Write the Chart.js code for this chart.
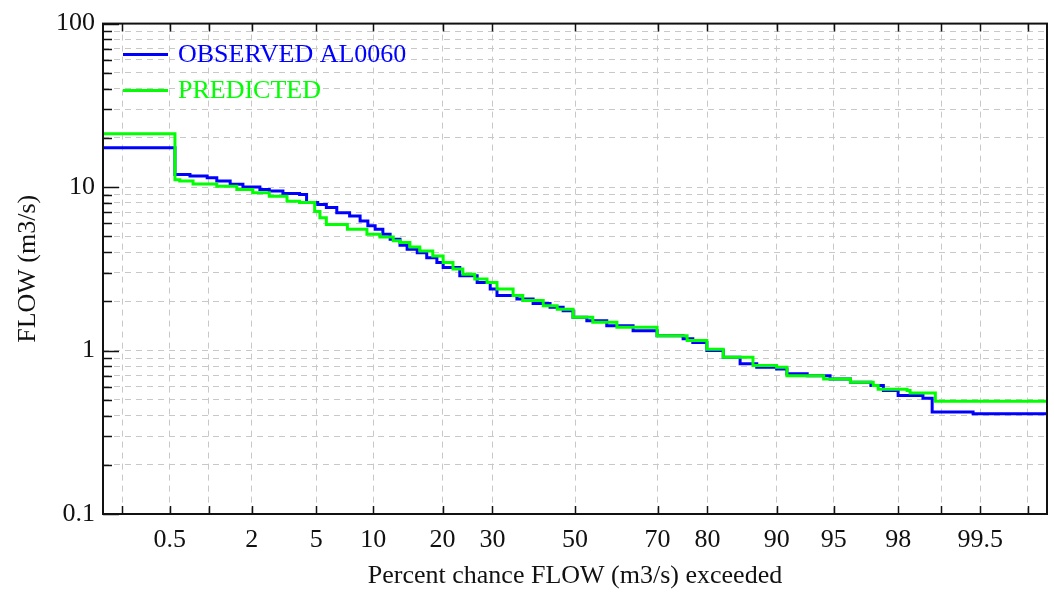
<!DOCTYPE html>
<html>
<head>
<meta charset="utf-8">
<script src="https://cdn.jsdelivr.net/npm/chart.js@4.4.1/dist/chart.umd.min.js"></script>
<style>
  html, body { margin: 0; padding: 0; background: #fff; }
  #wrap { width: 1054px; height: 593px; position: relative; }
</style>
</head>
<body>
<div id="wrap"><canvas id="fdc"></canvas></div>
<script>
// Flow duration curve: percent of time a flow is exceeded (normal probability axis)
// against flow on a log axis, observed vs predicted.

const X_TICKS = [0.2, 0.5, 1, 2, 5, 10, 20, 30, 50, 70, 80, 90, 95, 98, 99, 99.5, 99.8];
const X_LABELED = [0.5, 2, 5, 10, 20, 30, 50, 70, 80, 90, 95, 98, 99.5];
const Y_TICKS = [0.1, 0.2, 0.3, 0.4, 0.5, 0.6, 0.7, 0.8, 0.9,
                 1, 2, 3, 4, 5, 6, 7, 8, 9,
                 10, 20, 30, 40, 50, 60, 70, 80, 90, 100];
const Y_LABELED = [0.1, 1, 10, 100];

// observed (AL0060): step starts, percent exceeded / flow m3/s
const obsPct = [0.135, 0.55, 0.72, 0.97, 1.14, 1.42, 1.74, 2.26, 2.6, 3.17, 4.0, 4.4, 5.1, 5.7, 6.5,
  7.6, 8.6, 9.4, 10.2, 11.1, 12.0, 13.3, 14.3, 15.8, 17.3, 19.0, 20.1, 23.2, 26.7, 29.5, 31, 35.6, 39.5,
  43.7, 47, 49.5, 53, 58, 64.4, 69.9, 75.4, 77.3, 79.9, 82.7, 85.3, 87.6, 90, 91.1, 93, 94.75, 96,
  97, 97.5, 98, 98.65, 98.84, 99.43, 99.865];
const obsFlow = [17.4, 11.95, 11.7, 11.4, 10.9, 10.4, 10.0, 9.67, 9.45, 9.12, 9.0, 8.04, 7.83, 7.49, 6.97,
  6.66, 6.2, 5.79, 5.52, 5.15, 4.8, 4.4, 4.16, 3.97, 3.7, 3.46, 3.22, 2.87, 2.61, 2.38, 2.17, 2.07, 1.94,
  1.84, 1.75, 1.6, 1.52, 1.42, 1.32, 1.23, 1.18, 1.12, 1.0, 0.91, 0.83, 0.79, 0.77, 0.72, 0.70, 0.67, 0.64,
  0.61, 0.57, 0.53, 0.51, 0.42, 0.41, 0.41];

// predicted
const predPct = [0.135, 0.55, 0.6, 0.76, 1.14, 1.58, 2.03, 2.6, 3.36, 4.0, 4.9, 5.25, 5.7, 7.4, 9.3,
  10.75, 12.4, 13.3, 14.7, 16.2, 18.3, 20.1, 21.9, 23.8, 26.2, 28.8, 31, 34.7, 37, 42, 45.5, 49.5, 54.5,
  60.5, 69.9, 76.2, 79.9, 82.7, 87.1, 90, 91.1, 94.3, 96, 97.1, 97.3, 98.26, 98.34, 98.9, 99.865];
const predFlow = [21.2, 11.1, 10.88, 10.45, 10.1, 9.67, 9.23, 8.8, 8.2, 8.04, 7.1, 6.5, 5.91, 5.52, 5.15,
  4.95, 4.7, 4.58, 4.3, 4.07, 3.79, 3.46, 3.15, 2.93, 2.74, 2.61, 2.38, 2.17, 2.02, 1.88, 1.79, 1.6, 1.49,
  1.39, 1.23, 1.15, 1.02, 0.91, 0.81, 0.79, 0.70, 0.67, 0.64, 0.61, 0.58, 0.57, 0.55, 0.49, 0.49];

const FONT = { family: "'Liberation Serif', 'Times New Roman', serif", size: 26 };
const INK = '#111';

/* ===== normal probability scale ===== */
// Acklam's approximation of the inverse standard normal CDF
function probit(p) {
  const a = [-3.969683028665376e+01, 2.209460984245205e+02, -2.759285104469687e+02, 1.383577518672690e+02, -3.066479806614716e+01, 2.506628277459239e+00];
  const b = [-5.447609879822406e+01, 1.615858368580409e+02, -1.556989798598866e+02, 6.680131188771972e+01, -1.328068155288572e+01];
  const c = [-7.784894002430293e-03, -3.223964580411365e-01, -2.400758277161838e+00, -2.549732539343734e+00, 4.374664141464968e+00, 2.938163982698783e+00];
  const d = [7.784695709041462e-03, 3.224671290700398e-01, 2.445134137142996e+00, 3.754408661907416e+00];
  const lo = 0.02425;
  if (p < lo) {
    const q = Math.sqrt(-2 * Math.log(p));
    return (((((c[0]*q+c[1])*q+c[2])*q+c[3])*q+c[4])*q+c[5]) / ((((d[0]*q+d[1])*q+d[2])*q+d[3])*q+1);
  }
  if (p > 1 - lo) {
    const q = Math.sqrt(-2 * Math.log(1 - p));
    return -(((((c[0]*q+c[1])*q+c[2])*q+c[3])*q+c[4])*q+c[5]) / ((((d[0]*q+d[1])*q+d[2])*q+d[3])*q+1);
  }
  const q = p - 0.5, r = q * q;
  return (((((a[0]*r+a[1])*r+a[2])*r+a[3])*r+a[4])*r+a[5])*q / (((((b[0]*r+b[1])*r+b[2])*r+b[3])*r+b[4])*r+1);
}

function normCdf(z) {
  const x = Math.abs(z) / Math.SQRT2;
  const t = 1 / (1 + 0.3275911 * x);
  const erf = 1 - (((((1.061405429*t - 1.453152027)*t) + 1.421413741)*t - 0.284496736)*t + 0.254829592)*t*Math.exp(-x*x);
  return z >= 0 ? 0.5 * (1 + erf) : 0.5 * (1 - erf);
}

class ProbitScale extends Chart.LinearScale {
  static id = 'probit';
  determineDataLimits() {
    this.min = this.options.min;
    this.max = this.options.max;
  }
  buildTicks() {
    return X_TICKS.filter(v => v >= this.min && v <= this.max).map(v => ({ value: v }));
  }
  configure() {
    super.configure();
    this._zMin = probit(this.min / 100);
    this._zMax = probit(this.max / 100);
  }
  getPixelForValue(v) {
    return this.getPixelForDecimal((probit(v / 100) - this._zMin) / (this._zMax - this._zMin));
  }
  getValueForPixel(px) {
    const z = this._zMin + this.getDecimalForPixel(px) * (this._zMax - this._zMin);
    return normCdf(z) * 100;
  }
}
Chart.register(ProbitScale);

/* ===== frame, inward tick marks, inset legend ===== */
const frame = {
  id: 'frame',
  afterDatasetsDraw(chart) {
    const { ctx, chartArea: a, scales: { x, y } } = chart;
    ctx.save();
    ctx.strokeStyle = INK;
    ctx.lineWidth = 1.5;
    ctx.beginPath();
    x.ticks.forEach(t => {
      const px = Math.round(x.getPixelForValue(t.value)) + 0.5;
      ctx.moveTo(px, a.top); ctx.lineTo(px, a.top + 8);
      ctx.moveTo(px, a.bottom); ctx.lineTo(px, a.bottom - 8);
    });
    y.ticks.forEach(t => {
      const py = Math.round(y.getPixelForValue(t.value)) + 0.5;
      const len = Y_LABELED.includes(t.value) ? 16 : 9;
      ctx.moveTo(a.left, py); ctx.lineTo(a.left + len, py);
    });
    ctx.stroke();
    ctx.lineWidth = 2;
    ctx.strokeRect(a.left, a.top, a.right - a.left, a.bottom - a.top);
    ctx.restore();
  }
};

const insetLegend = {
  id: 'insetLegend',
  afterDraw(chart) {
    const { ctx, chartArea: a } = chart;
    ctx.save();
    ctx.font = `${FONT.size}px ${FONT.family}`;
    ctx.textBaseline = 'middle';
    chart.data.datasets.forEach((ds, i) => {
      const yy = a.top + 31 + i * 36;
      ctx.strokeStyle = ds.borderColor;
      ctx.lineWidth = 3;
      ctx.beginPath();
      ctx.moveTo(a.left + 20, yy);
      ctx.lineTo(a.left + 65, yy);
      ctx.stroke();
      ctx.fillStyle = ds.borderColor;
      ctx.fillText(ds.label, a.left + 75, yy + 1);
    });
    ctx.restore();
  }
};

const toPoints = (xs, ys) => xs.map((p, i) => ({ x: p, y: ys[i] }));

new Chart(document.getElementById('fdc'), {
  type: 'line',
  data: {
    datasets: [
      { label: 'OBSERVED AL0060', data: toPoints(obsPct, obsFlow), borderColor: '#0000ff',
        borderWidth: 3, pointRadius: 0, stepped: true, order: 1 },
      { label: 'PREDICTED', data: toPoints(predPct, predFlow), borderColor: '#00ff00',
        borderWidth: 3, pointRadius: 0, stepped: true, order: 0 }
    ]
  },
  options: {
    responsive: true, maintainAspectRatio: false, animation: false,
    layout: { padding: { top: 22, right: 7, left: 0, bottom: 0 } },
    plugins: { legend: { display: false }, tooltip: { enabled: false } },
    scales: {
      x: {
        type: 'probit', min: 0.135, max: 99.865,
        grid: { color: '#c8c8c8', lineWidth: 1, drawTicks: false },
        border: { display: false, dash: [6, 5] },
        ticks: {
          autoSkip: false, maxRotation: 0, padding: 11, color: INK, font: FONT,
          callback: v => X_LABELED.includes(v) ? String(v) : ''
        },
        title: { display: true, text: 'Percent chance FLOW (m3/s) exceeded', color: INK, font: FONT,
                 padding: { top: 0, bottom: 1 } },
        afterFit(s) { s.height = 79; }
      },
      y: {
        type: 'logarithmic', min: 0.1, max: 100,
        afterBuildTicks(s) { s.ticks = Y_TICKS.map(v => ({ value: v })); },
        grid: { color: '#c8c8c8', lineWidth: 1, drawTicks: false },
        border: { display: false, dash: [6, 5] },
        ticks: {
          autoSkip: false, padding: 8, color: INK, font: FONT,
          callback: v => Y_LABELED.includes(v) ? String(v) : ''
        },
        title: { display: true, text: 'FLOW (m3/s)', color: INK, font: FONT,
                 padding: { top: 13, bottom: 0 } },
        afterFit(s) { s.width = 103; }
      }
    }
  },
  plugins: [frame, insetLegend]
});
</script>
</body>
</html>
